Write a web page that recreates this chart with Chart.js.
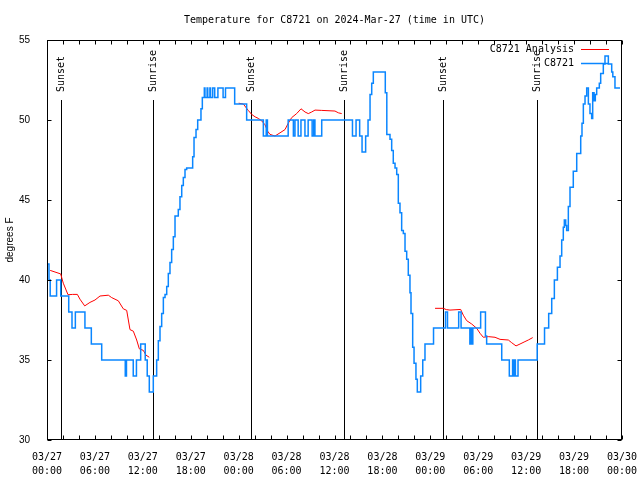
<!DOCTYPE html>
<html>
<head>
<meta charset="utf-8">
<script src="https://cdn.jsdelivr.net/npm/chart.js@4.4.1/dist/chart.umd.min.js"></script>
<style>
html, body { margin: 0; padding: 0; background: #fff; }
#wrap { width: 640px; height: 480px; }
</style>
</head>
<body>
<div id="wrap"><canvas id="chart" width="640" height="480"></canvas></div>
<script>
// hours since 03/27 00:00 UTC, temperature in F
var titleText = 'Temperature for C8721 on 2024-Mar-27 (time in UTC)';
var xTickLabels = [['03/27','00:00'],['03/27','06:00'],['03/27','12:00'],['03/27','18:00'],
                   ['03/28','00:00'],['03/28','06:00'],['03/28','12:00'],['03/28','18:00'],
                   ['03/29','00:00'],['03/29','06:00'],['03/29','12:00'],['03/29','18:00'],
                   ['03/30','00:00']];
var sunHours = [1.72, 13.31, 25.59, 37.23, 49.63, 61.32];
var sunLabels = ['Sunset','Sunrise','Sunset','Sunrise','Sunset','Sunrise'];

// station readings [hour, temp] at each change
var stationReadings = [
  [0.1,41],[0.25,40],[0.4,39],[1.2,40],[1.72,39],[2.72,38],[3.13,37],[3.55,38],[4.75,37],[5.55,36],
  [6.85,35],[9.8,34],[9.95,35],[10.8,34],[11.2,35],[11.73,36],[12.3,35],[12.55,34],[12.81,33],
  [13.31,34],[13.73,35],[13.94,36.2],[14.15,37.1],[14.36,37.9],[14.57,38.9],[14.78,39.1],[14.99,39.6],
  [15.19,40.4],[15.4,41.1],[15.61,41.9],[15.82,42.7],[16.03,44],[16.44,44.4],[16.65,45.2],[16.87,45.9],
  [17.07,46.4],[17.28,46.9],[17.49,47],[18.24,47.7],[18.41,48.9],[18.66,49.4],[18.87,50],[19.28,50.7],
  [19.45,51.4],[19.7,52],[19.78,51.4],[20.05,52],[20.13,51.4],[20.4,52],[20.48,51.4],[20.75,52],
  [21.0,51.4],[21.4,52],[22.05,51.4],[22.35,52],[23.5,51],[25.0,50],
  [27.09,49],[27.45,50],[27.6,49],[30.2,50],[30.85,49],[31.05,50],[31.45,49],[31.8,50],[32.3,49],
  [32.7,50],[33.2,49],[33.4,50],[33.55,49],[34.4,50],[38.25,49],[38.7,50],[39.15,49],[39.45,48],
  [39.9,49],[40.2,50],[40.45,51.6],[40.66,52.3],[40.86,53],[42.36,51.7],[42.55,49.1],[42.95,48.8],
  [43.16,48.1],[43.36,47.3],[43.58,47],[43.79,46.6],[43.99,44.8],[44.2,44.2],[44.41,43.1],[44.62,42.9],
  [44.83,41.8],[45.04,41.3],[45.24,40.3],[45.45,39.2],[45.58,37.9],[45.79,35.8],[45.96,34.8],[46.2,33.8],
  [46.37,33],[46.79,34],[47.05,35],[47.33,36],[48.4,37],[49.9,38],[50.15,37],[51.55,38],[51.85,37],
  [52.95,36],[53.08,37],[53.25,36],[53.32,37],[54.3,38],[54.9,36.5],[55.05,36],[56.94,35],[57.89,34],
  [58.3,35],[58.4,34],[58.55,35],[58.65,34],[58.98,35],[61.38,36],[62.3,37],[62.82,37.9],[63.2,38.85],
  [63.53,40],[63.91,40.8],[64.24,41.5],[64.45,42.5],[64.65,43.3],[64.78,43.75],[64.95,43.4],[65.07,43.1],
  [65.28,44.6],[65.49,45.8],[65.9,46.8],[66.33,47.9],[66.83,49],[66.99,49.8],[67.16,51],[67.37,51.5],
  [67.58,52],[67.79,51],[67.99,50.4],[68.2,50.1],[68.33,51.7],[68.5,51.2],[68.66,51.6],[68.83,52],
  [69.16,52.3],[69.33,52.9],[69.66,53.5],[69.87,54],[70.29,53.5],[70.71,53],[70.85,52.7],[71.12,52],
  [71.75,52]
];

// analysis, three night segments
var analysisSeg1 = [
  [0.4,40.6],[1.71,40.38],[2.04,39.8],[2.63,39.08],[3.21,39.1],[3.8,39.1],[4.13,38.8],[4.72,38.38],
  [5.38,38.6],[6.01,38.75],[6.64,39.0],[7.68,39.05],[8.1,38.9],[8.93,38.7],[9.55,38.2],[9.98,38.1],
  [10.39,36.9],[10.81,36.8],[11.23,36.25],[11.56,35.7],[12.06,35.6],[12.4,35.3],[12.81,35.17]
];
var analysisSeg2 = [
  [24.0,51.05],[24.58,51.0],[25.2,50.6],[25.63,50.35],[26.05,50.2],[26.46,50.1],[26.88,49.95],
  [27.3,49.7],[27.63,49.3],[27.92,49.1],[28.55,49.0],[29.18,49.2],[29.8,49.4],[30.21,49.8],
  [30.64,50.15],[31.26,50.4],[31.81,50.7],[32.31,50.5],[32.72,50.4],[33.14,50.5],[33.56,50.62],
  [34.4,50.6],[36.06,50.56],[36.48,50.45],[36.9,50.4]
];
var analysisSeg3 = [
  [48.59,38.23],[49.62,38.23],[50.0,38.15],[50.46,38.12],[51.8,38.16],[52.13,37.8],[52.55,37.46],
  [53.18,37.25],[53.81,36.98],[54.22,36.67],[54.63,36.42],[55.26,36.46],[56.1,36.42],[56.73,36.29],
  [57.77,36.25],[58.19,36.08],[58.73,35.88],[59.23,36.0],[59.85,36.15],[60.27,36.25],[60.82,36.4]
];

var monoFont = '"DejaVu Sans Mono", "Liberation Mono", monospace';
var sansFont = '"Liberation Sans", "DejaVu Sans", sans-serif';

function toPoints(arr) {
  return arr.map(function (p) { return {x: p[0], y: p[1]}; });
}

var analysisPts = toPoints(analysisSeg1)
  .concat([{x: 18, y: null}])
  .concat(toPoints(analysisSeg2))
  .concat([{x: 42, y: null}])
  .concat(toPoints(analysisSeg3));
var stationPts = toPoints(stationReadings);

var decor = {
  id: 'decor',
  beforeDatasetsDraw: function (chart) {
    var ctx = chart.ctx, a = chart.chartArea, xs = chart.scales.x;
    ctx.save();
    ctx.strokeStyle = '#000';
    ctx.fillStyle = '#000';
    ctx.lineWidth = 1;
    ctx.font = '10px ' + monoFont;
    for (var i = 0; i < sunHours.length; i++) {
      var px = Math.round(xs.getPixelForValue(sunHours[i])) + 0.5;
      ctx.beginPath();
      ctx.moveTo(px, a.top + 60);
      ctx.lineTo(px, a.bottom);
      ctx.stroke();
      ctx.save();
      ctx.translate(px, a.top + 52);
      ctx.rotate(-Math.PI / 2);
      ctx.textAlign = 'left';
      ctx.textBaseline = 'middle';
      ctx.fillText(sunLabels[i], 0, 0);
      ctx.restore();
    }
    ctx.restore();
  },
  afterDatasetsDraw: function (chart) {
    var ctx = chart.ctx, a = chart.chartArea, xs = chart.scales.x, ys = chart.scales.y;
    ctx.save();
    ctx.strokeStyle = '#000';
    ctx.lineWidth = 1;
    var l = Math.round(a.left) + 0.5, r = Math.round(a.right) - 0.5;
    var t = Math.round(a.top) + 0.5, b = Math.round(a.bottom) - 0.5;
    ctx.strokeRect(l, t, r - l, b - t);
    ctx.beginPath();
    xs.ticks.forEach(function (tk) {
      var px = Math.round(xs.getPixelForValue(tk.value)) + 0.5;
      ctx.moveTo(px, b); ctx.lineTo(px, b - 4);
      ctx.moveTo(px, t); ctx.lineTo(px, t + 4);
    });
    ys.ticks.forEach(function (tk) {
      var py = Math.round(ys.getPixelForValue(tk.value)) + 0.5;
      ctx.moveTo(l, py); ctx.lineTo(l + 4, py);
      ctx.moveTo(r, py); ctx.lineTo(r - 4, py);
    });
    ctx.stroke();
    ctx.restore();
  },
  afterDraw: function (chart) {
    var ctx = chart.ctx, a = chart.chartArea;
    ctx.save();
    ctx.fillStyle = '#000';
    ctx.font = '10px ' + monoFont;
    ctx.textAlign = 'center';
    ctx.textBaseline = 'middle';
    ctx.fillText(titleText, (a.left + a.right) / 2, 20);
    // legend, gnuplot style: text then sample line
    ctx.textAlign = 'right';
    chart.data.datasets.forEach(function (ds, i) {
      var y = a.top + 9 + i * 14;
      ctx.fillStyle = '#000';
      ctx.fillText(ds.label, a.right - 48, y);
      ctx.strokeStyle = ds.borderColor;
      ctx.lineWidth = ds.borderWidth;
      ctx.beginPath();
      ctx.moveTo(a.right - 41, Math.round(y) + 0.5);
      ctx.lineTo(a.right - 13, Math.round(y) + 0.5);
      ctx.stroke();
    });
    ctx.restore();
  }
};

var chart = new Chart(document.getElementById('chart').getContext('2d'), {
  type: 'line',
  data: {
    datasets: [{
      label: 'C8721 Analysis',
      data: analysisPts,
      borderColor: '#ff0000',
      borderWidth: 1,
      pointRadius: 0,
      fill: false,
      spanGaps: false,
      tension: 0,
      order: 1
    }, {
      label: 'C8721',
      data: stationPts,
      borderColor: '#0a86ff',
      borderWidth: 1.5,
      pointRadius: 0,
      fill: false,
      stepped: true,
      order: 0
    }]
  },
  options: {
    responsive: false,
    animation: false,
    events: [],
    layout: { padding: { top: 40, right: 18, left: 0, bottom: 0 } },
    plugins: {
      legend: { display: false },
      title: { display: false },
      tooltip: { enabled: false }
    },
    scales: {
      x: {
        type: 'linear',
        min: 0,
        max: 72,
        grid: { display: false },
        border: { display: false },
        afterFit: function (s) { s.height = 40; s.paddingLeft = 0; s.paddingRight = 0; },
        ticks: {
          stepSize: 2,
          autoSkip: false,
          maxRotation: 0,
          padding: 2,
          color: '#000',
          font: { family: monoFont, size: 10, lineHeight: 1.4 },
          callback: function (v) {
            return v % 6 === 0 ? xTickLabels[v / 6] : '';
          }
        }
      },
      y: {
        min: 30,
        max: 55,
        grid: { display: false },
        border: { display: false },
        afterFit: function (s) { s.width = 47; },
        ticks: {
          stepSize: 5,
          padding: 9,
          color: '#000',
          font: { family: sansFont, size: 10 }
        },
        title: {
          display: true,
          text: 'degrees F',
          color: '#000',
          padding: { top: 4, bottom: 0 },
          font: { family: sansFont, size: 10 }
        }
      }
    }
  },
  plugins: [decor]
});
</script>
</body>
</html>
